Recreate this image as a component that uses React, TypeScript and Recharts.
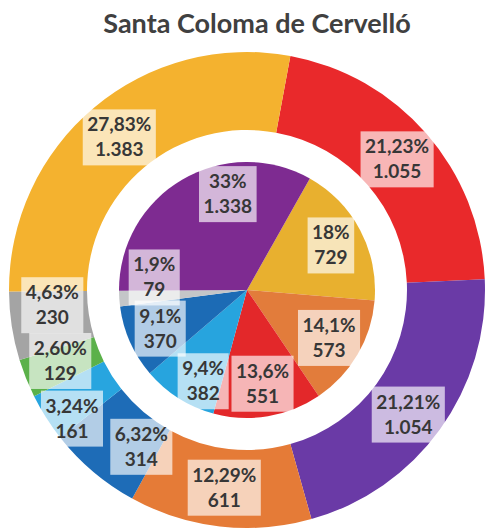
import { PieChart, Pie, Cell } from "recharts";

// outer ring, clockwise from the top
const OUTER_KEYS = ["red", "purple", "orange", "darkblue", "lightblue", "green", "gray", "yellow"];
const OUTER_VOTES = [1055, 1054, 611, 314, 161, 129, 230, 1383];
const OUTER_PCT = [21.23, 21.21, 12.29, 6.32, 3.24, 2.6, 4.63, 27.83];

// inner pie, clockwise from the yellow slice
const INNER_KEYS = ["yellow", "orange", "red", "lightblue", "darkblue", "gray", "purple"];
const INNER_VOTES = [729, 573, 551, 382, 370, 79, 1338];
const INNER_PCT = [18, 14.1, 13.6, 9.4, 9.1, 1.9, 33];

const OUTER_COLORS: Record<string, string> = {
  red: "#e9292b", purple: "#6a3aa6", orange: "#e57b37", darkblue: "#1e6cb7",
  lightblue: "#28a5df", green: "#5bb14a", gray: "#a4a4a4", yellow: "#f4b22f",
};
const INNER_COLORS: Record<string, string> = {
  red: "#e3282a", purple: "#7e2b91", orange: "#e27c3b", darkblue: "#1c6bb5",
  lightblue: "#27a4de", gray: "#c4c6c8", yellow: "#e8b02f",
};

// small hand nudges so labels don't collide (px)
const OUTER_SHIFT: Record<string, [number, number]> = {
  lightblue: [-7, 22], gray: [2, -15], green: [-2, -3], darkblue: [23, 5], purple: [0, 8],
};
const INNER_SHIFT: Record<string, [number, number]> = {
  purple: [29, -14], gray: [2, -19], lightblue: [7, 11],
};

const W = 488;
const H = 532;
const CX = 247;
const CY = 290;
const FONT = "Lato, 'Open Sans', sans-serif";
const INK = "#373737";
const RADIAN = Math.PI / 180;

const outerData = OUTER_KEYS.map((k, i) => ({ name: k, value: OUTER_VOTES[i], pct: OUTER_PCT[i] }));
const innerData = INNER_KEYS.map((k, i) => ({ name: k, value: INNER_VOTES[i], pct: INNER_PCT[i] }));

const fmtVotes = (n: number) => String(n).replace(/\B(?=(\d{3})+(?!\d))/g, ".");
const fmtOuterPct = (n: number) => n.toFixed(2).replace(".", ",") + "%";
const fmtInnerPct = (n: number) => (Number.isInteger(n) ? String(n) : n.toFixed(1).replace(".", ",")) + "%";

let ctx: CanvasRenderingContext2D | null = null;
function textWidth(s: string) {
  if (!ctx) ctx = document.createElement("canvas").getContext("2d");
  if (!ctx) return s.length * 10.5;
  ctx.font = `bold 19px ${FONT}`;
  return ctx.measureText(s).width;
}

function makeLabel(
  keys: string[], pcts: number[], votes: number[], r: number,
  fmtPct: (n: number) => string, shift: Record<string, [number, number]>,
) {
  return (props: any) => {
    const { midAngle, index } = props;
    const key = keys[index];
    const [dx, dy] = shift[key] || [0, 0];
    const x = CX + r * Math.cos(-midAngle * RADIAN) + dx;
    const y = CY + r * Math.sin(-midAngle * RADIAN) + dy;
    const l1 = fmtPct(pcts[index]);
    const l2 = fmtVotes(votes[index]);
    const w = Math.max(textWidth(l1), textWidth(l2)) + 9;
    const h = 56;
    return (
      <g key={`lbl-${key}-${index}`}>
        <rect x={x - w / 2} y={y - h / 2} width={w} height={h} fill="#fff" fillOpacity={0.66} />
        <text x={x} y={y - 6} textAnchor="middle" fontFamily={FONT} fontWeight={700} fontSize={19} fill={INK}>
          {l1}
        </text>
        <text x={x} y={y + 19} textAnchor="middle" fontFamily={FONT} fontWeight={700} fontSize={19} fill={INK}>
          {l2}
        </text>
      </g>
    );
  };
}

export default function App() {
  return (
    <div style={{ position: "absolute", left: 0, top: 0, width: W, height: H, background: "#fff" }}>
      <div
        style={{
          position: "absolute", left: 0, top: 7, width: 514, textAlign: "center",
          fontFamily: FONT, fontWeight: 700, fontSize: 27, color: "#404040", lineHeight: "32px",
        }}
      >
        Santa Coloma de Cervelló
      </div>
      <PieChart width={W} height={H} margin={{ top: 0, right: 0, bottom: 0, left: 0 }}>
        <Pie
          data={outerData}
          dataKey="value"
          cx={CX}
          cy={CY}
          innerRadius={160}
          outerRadius={238}
          startAngle={79.5}
          endAngle={-280.5}
          stroke="none"
          labelLine={false}
          label={makeLabel(OUTER_KEYS, OUTER_PCT, OUTER_VOTES, 199, fmtOuterPct, OUTER_SHIFT)}
          isAnimationActive={false}
        >
          {OUTER_KEYS.map((k) => <Cell key={k} fill={OUTER_COLORS[k]} />)}
        </Pie>
        <Pie
          data={innerData}
          dataKey="value"
          cx={CX}
          cy={CY}
          innerRadius={0}
          outerRadius={128}
          startAngle={60.6}
          endAngle={-299.4}
          stroke="none"
          labelLine={false}
          label={makeLabel(INNER_KEYS, INNER_PCT, INNER_VOTES, 95, fmtInnerPct, INNER_SHIFT)}
          isAnimationActive={false}
        >
          {INNER_KEYS.map((k) => <Cell key={k} fill={INNER_COLORS[k]} />)}
        </Pie>
      </PieChart>
    </div>
  );
}
